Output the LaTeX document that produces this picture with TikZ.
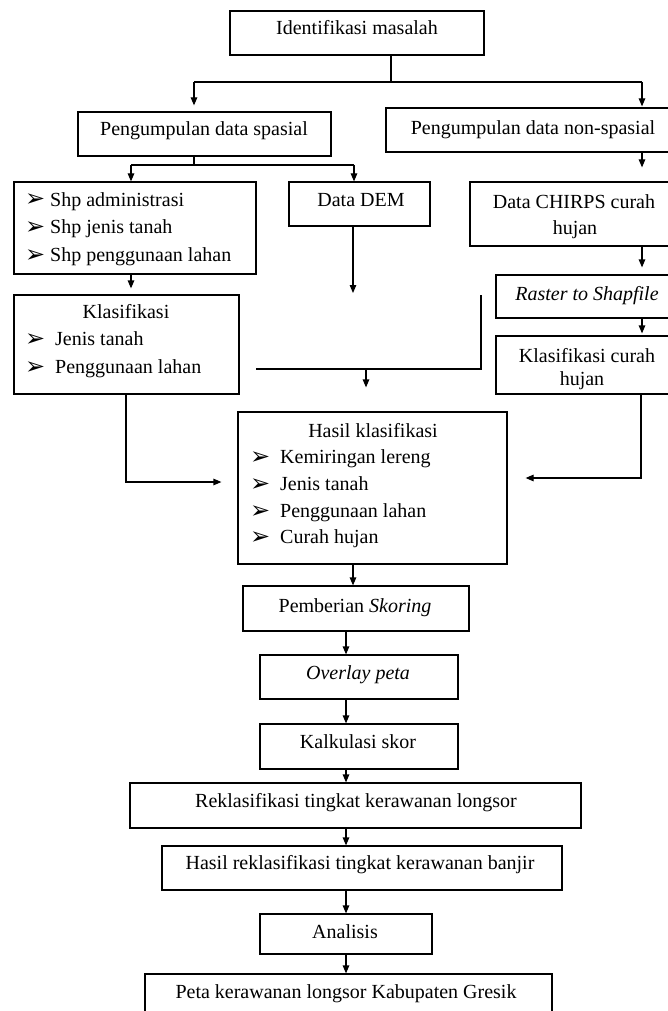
\documentclass[tikz,border=0pt]{standalone}
\usepackage{fontspec}
\setmainfont{Liberation Serif}
\newfontfamily\dejavu{DejaVu Sans}
\usetikzlibrary{arrows.meta,calc}
\tikzset{
  box/.style={draw, line width=1.2pt, inner sep=0pt},
  txt/.style={anchor=base, inner sep=0pt, font=\fontsize{20}{24}\selectfont},
  ltxt/.style={txt, anchor=base west},
  bul/.style={anchor=base west, inner sep=0pt, font=\dejavu\fontsize{24}{24}\selectfont},
  line/.style={line width=1.2pt},
  arr/.style={line, -{Triangle[length=8pt,width=6.5pt]}},
}
\begin{document}
\begin{tikzpicture}[x=1pt,y=-1pt]
\useasboundingbox (0,0) rectangle (668,1011);
\clip (0,0) rectangle (668,1011);
\fill[white] (0,0) rectangle (668,1011);

% boxes
\node[box, minimum width=254, minimum height=44] (ident) at (357,33) {};
\node[box, minimum width=253, minimum height=44] (spasial) at (204.5,134) {};
\node[box, minimum width=314, minimum height=44] (nonsp) at (543,130) {};
\node[box, minimum width=242, minimum height=92] (shp) at (135,228) {};
\node[box, minimum width=141, minimum height=44] (dem) at (359.5,204) {};
\node[box, minimum width=230, minimum height=64] (chirps) at (585,214) {};
\node[box, minimum width=204, minimum height=43] (raster) at (598,296.5) {};
\node[box, minimum width=204, minimum height=58] (klascurah) at (598,365) {};
\node[box, minimum width=225, minimum height=99] (klas) at (126.5,344.5) {};
\node[box, minimum width=269, minimum height=152] (hasil) at (372.5,488) {};
\node[box, minimum width=226, minimum height=45] (skoring) at (356,608.5) {};
\node[box, minimum width=198, minimum height=44] (overlay) at (359,677) {};
\node[box, minimum width=198, minimum height=45] (kalk) at (359,746.5) {};
\node[box, minimum width=451, minimum height=45] (reklas) at (355.5,805.5) {};
\node[box, minimum width=400, minimum height=44] (hasilreklas) at (362,868) {};
\node[box, minimum width=172, minimum height=40] (analisis) at (346,934) {};
\node[box, minimum width=407, minimum height=66] (peta) at (348.5,1007) {};

% texts
\node[txt] (t-ident) at (357,35) {Identifikasi masalah};
\node[txt] (t-spasial) at (204,136) {Pengumpulan data spasial};
\node[txt] (t-nonsp) at (533,135) {Pengumpulan data non-spasial};
\node[bul] (b-shp1) at (25,207) {➢};
\node[ltxt] (t-shp1) at (50,206) {Shp administrasi};
\node[bul] (b-shp2) at (25,234) {➢};
\node[ltxt] (t-shp2) at (50,233) {Shp jenis tanah};
\node[bul] (b-shp3) at (25,262) {➢};
\node[ltxt] (t-shp3) at (50,261) {Shp penggunaan lahan};
\node[txt] (t-dem) at (361,206) {Data DEM};
\node[txt] (t-chirps1) at (574,208) {Data CHIRPS curah};
\node[txt] (t-chirps2) at (575,234) {hujan};
\node[txt] (t-raster) at (587,300) {\itshape Raster to Shapfile};
\node[txt] (t-kc1) at (587,362) {Klasifikasi curah};
\node[txt] (t-kc2) at (582,385) {hujan};
\node[txt] (t-klas) at (126,318) {Klasifikasi};
\node[bul] (b-klas1) at (25,346) {➢};
\node[ltxt] (t-klas1) at (55,345) {Jenis tanah};
\node[bul] (b-klas2) at (25,374) {➢};
\node[ltxt] (t-klas2) at (55,373) {Penggunaan lahan};
\node[txt] (t-hasil) at (373,437) {Hasil klasifikasi};
\node[bul] (b-h1) at (250,464) {➢};
\node[ltxt] (t-h1) at (280,463) {Kemiringan lereng};
\node[bul] (b-h2) at (250,491) {➢};
\node[ltxt] (t-h2) at (280,490) {Jenis tanah};
\node[bul] (b-h3) at (250,518) {➢};
\node[ltxt] (t-h3) at (280,517) {Penggunaan lahan};
\node[bul] (b-h4) at (250,544) {➢};
\node[ltxt] (t-h4) at (280,543) {Curah hujan};
\node[txt] (t-skoring) at (355,612) {Pemberian \textit{Skoring}};
\node[txt] (t-overlay) at (358,679) {\itshape Overlay peta};
\node[txt] (t-kalk) at (358,748) {Kalkulasi skor};
\node[txt] (t-reklas) at (356,807) {Reklasifikasi tingkat kerawanan longsor};
\node[txt] (t-hasilreklas) at (360,869) {Hasil reklasifikasi tingkat kerawanan banjir};
\node[txt] (t-analisis) at (345,938) {Analisis};
\node[txt] (t-peta) at (346,998) {Peta kerawanan longsor Kabupaten Gresik};

% connectors
\coordinate (j1) at (391,82);
\coordinate (jl) at (194,82);
\coordinate (jr) at (642,82);
\draw[line] (ident.south -| j1) -- (j1);
\draw[line] (jl) -- (jr);
\draw[arr, shorten >=6pt] (jl) -- (jl |- spasial.north);
\draw[arr, shorten >=1pt] (jr) -- (jr |- nonsp.north);

\coordinate (j2) at (194,165);
\coordinate (j2l) at (131,165);
\coordinate (j2r) at (354,165);
\draw[line] (spasial.south -| j2) -- (j2);
\draw[line] (j2l) -- (j2r);
\draw[arr] (j2l) -- (j2l |- shp.north);
\draw[arr] (j2r) -- (j2r |- dem.north);

\coordinate (rx) at (642,0);
\draw[arr, shorten >=14pt] (nonsp.south -| rx) -- (chirps.north -| rx);
\draw[arr, shorten >=7pt] (chirps.south -| rx) -- (raster.north -| rx);
\draw[arr, shorten >=2pt] (raster.south -| rx) -- (klascurah.north -| rx);
\draw[arr, shorten >=6pt] (shp.south -| j2l) -- (klas.north -| j2l);

\coordinate (demend) at (353,293);
\draw[arr] (dem.south -| demend) -- (demend);

\coordinate (m1) at (481,295);
\coordinate (m2) at (481,369);
\coordinate (m3) at (256,369);
\coordinate (m4) at (366,369);
\draw[line] (m1) -- (m2) -- (m3);
\draw[arr, shorten >=24pt] (m4) -- (m4 |- hasil.north);

\coordinate (lk) at (126,482);
\draw[arr, shorten >=16pt] (klas.south -| lk) |- (hasil.west |- lk);
\coordinate (rk) at (641,478);
\draw[arr, shorten >=18pt] (klascurah.south -| rk) |- (hasil.east |- rk);

\coordinate (cx) at (353,0);
\draw[arr] (hasil.south -| cx) -- (skoring.north -| cx);
\coordinate (cy) at (346,0);
\draw[arr] (skoring.south -| cy) -- (overlay.north -| cy);
\draw[arr] (overlay.south -| cy) -- (kalk.north -| cy);
\draw[arr] (kalk.south -| cy) -- (reklas.north -| cy);
\draw[arr] (reklas.south -| cy) -- (hasilreklas.north -| cy);
\draw[arr] (hasilreklas.south -| cy) -- (analisis.north -| cy);
\draw[arr] (analisis.south -| cy) -- (peta.north -| cy);
\end{tikzpicture}
\end{document}
